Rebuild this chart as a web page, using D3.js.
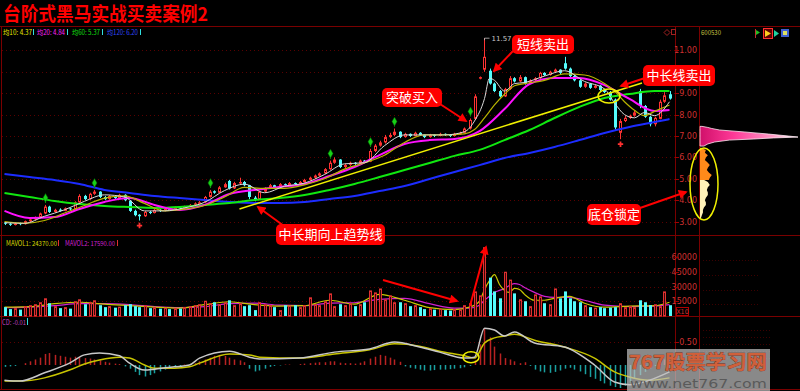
<!DOCTYPE html>
<html><head><meta charset="utf-8">
<script src="https://cdn.jsdelivr.net/npm/d3@7"></script>
<style>body{margin:0;background:#000;overflow:hidden}svg{display:block}</style>
</head><body><svg id="c" width="800" height="391"></svg>
<script>
// ---------------- DATA ----------------
const opens=[2.95,2.90,2.84,2.93,2.88,3.01,3.10,3.18,3.38,3.70,
3.45,3.56,3.50,3.62,3.58,3.90,4.20,4.05,4.30,4.40,
4.15,4.05,4.20,4.10,4.25,3.98,3.50,3.32,3.25,3.45,
3.40,3.55,3.50,3.60,3.55,3.66,3.62,3.70,3.78,3.86,
3.90,4.15,4.42,4.35,4.60,4.90,4.55,4.80,4.85,4.70,
4.12,4.05,4.40,4.55,4.70,4.60,4.75,4.70,4.80,4.75,
4.85,4.95,5.05,5.15,5.25,5.45,5.75,5.90,5.55,5.65,
5.75,5.70,5.85,5.80,6.30,6.55,6.70,6.95,7.05,7.20,
6.95,7.10,7.00,7.15,7.05,6.95,7.05,7.00,7.10,7.05,
7.00,7.10,7.15,7.35,7.80,9.70,10.10,10.05,9.45,9.10,
8.85,9.20,9.70,9.55,9.75,9.45,9.60,9.70,9.95,9.85,
10.00,10.10,10.40,10.15,9.80,9.60,9.30,9.45,9.25,9.35,
9.15,9.05,8.70,7.15,7.70,7.85,7.95,9.10,8.40,7.90,
7.55,7.80,8.60,8.95];
const highs=[2.98,2.93,2.96,2.95,3.05,3.14,3.24,3.42,3.78,3.74,
3.60,3.62,3.66,3.65,3.95,4.28,4.25,4.35,4.48,4.42,
4.20,4.25,4.24,4.30,4.28,4.00,3.56,3.35,3.50,3.50,
3.60,3.58,3.64,3.63,3.70,3.68,3.74,3.82,3.90,3.96,
4.20,4.48,4.46,4.66,4.82,4.95,4.86,5.05,4.90,4.72,
4.20,4.45,4.60,4.76,4.72,4.80,4.78,4.85,4.83,4.90,
5.00,5.10,5.20,5.30,5.50,5.85,6.00,5.92,5.70,5.80,
5.78,5.90,5.88,6.40,6.62,6.78,7.05,7.15,7.35,7.22,
7.15,7.12,7.20,7.18,7.08,7.10,7.08,7.15,7.12,7.08,
7.15,7.20,7.40,7.82,8.95,9.78,11.57,10.15,9.50,9.15,
9.25,9.80,9.75,9.85,9.78,9.65,9.75,10.00,9.98,10.05,
10.15,10.12,10.70,10.20,9.85,9.65,9.50,9.48,9.40,9.38,
9.20,9.10,8.75,7.80,7.95,8.00,8.20,9.20,8.45,7.95,
7.90,8.70,9.05,9.10];
const lows=[2.84,2.80,2.82,2.83,2.86,2.98,3.06,3.15,3.35,3.40,
3.42,3.46,3.48,3.52,3.56,3.88,4.00,4.02,4.25,4.10,
4.00,4.02,4.05,4.08,3.95,3.45,3.25,3.05,3.22,3.35,
3.38,3.45,3.48,3.50,3.52,3.58,3.60,3.68,3.75,3.80,
3.88,4.12,4.30,4.32,4.58,4.50,4.52,4.75,4.65,4.05,
3.95,4.02,4.36,4.52,4.55,4.58,4.65,4.68,4.70,4.72,
4.82,4.92,5.00,5.10,5.22,5.42,5.70,5.50,5.50,5.60,
5.65,5.68,5.75,5.78,6.25,6.50,6.65,6.90,7.00,6.90,
6.92,6.95,6.98,7.00,6.90,6.92,6.95,6.98,7.00,6.95,
6.98,7.05,7.12,7.30,7.75,9.65,10.00,9.40,9.05,8.80,
8.82,9.15,9.50,9.52,9.40,9.42,9.55,9.65,9.80,9.82,
9.95,9.90,10.10,9.75,9.55,9.25,9.25,9.20,9.22,9.10,
9.00,8.65,7.30,6.85,7.65,7.80,7.90,8.30,7.85,7.45,
7.45,7.78,8.55,8.70];
const closes=[2.90,2.85,2.92,2.88,3.02,3.10,3.20,3.38,3.70,3.45,
3.55,3.50,3.62,3.58,3.90,4.20,4.05,4.30,4.40,4.15,
4.05,4.20,4.10,4.25,4.00,3.50,3.30,3.25,3.45,3.40,
3.55,3.50,3.60,3.55,3.65,3.62,3.70,3.78,3.85,3.90,
4.15,4.40,4.35,4.60,4.75,4.55,4.80,4.85,4.70,4.15,
4.05,4.40,4.55,4.70,4.60,4.75,4.70,4.80,4.75,4.85,
4.95,5.05,5.15,5.25,5.45,5.75,5.90,5.55,5.65,5.75,
5.70,5.85,5.80,6.30,6.55,6.70,6.95,7.05,7.20,6.95,
7.10,7.00,7.15,7.05,6.95,7.05,7.00,7.10,7.05,7.00,
7.10,7.15,7.35,7.75,8.85,9.75,10.70,9.45,9.10,8.85,
9.20,9.70,9.55,9.75,9.45,9.60,9.70,9.95,9.85,10.00,
10.10,9.95,10.15,9.80,9.60,9.30,9.45,9.25,9.35,9.15,
9.05,8.70,7.40,7.70,7.85,7.95,8.10,8.40,7.90,7.55,
7.85,8.60,8.90,8.75];
const volumes=[9000,7000,8000,6500,10000,11000,12000,14000,18000,13000,10000,8000,9000,7500,
15000,17000,12000,14000,16000,11000,9000,10000,8500,9500,11000,
12000,10000,9000,11000,8000,9000,7500,8500,7000,8000,7500,9000,10000,11000,12000,
15500,13000,14000,12000,14000,16000,11000,13000,10000,11000,6000,
14000,12000,11000,9000,6000,11000,10500,11000,9000,11000,19000,12000,11000,15000,23000,10000,12000,11000,13000,10000,12000,14000,26000,24000,28000,17000,21000,14000,14000,13000,10000,11000,9000,7000,8000,6500,7500,6000,5500,7000,6500,
11000,13000,25000,21000,70000,39000,25000,18000,45000,37000,23000,17000,
15000,10000,22000,20000,13000,12000,28000,18000,25000,18000,15000,14000,11000,9000,8500,9000,8000,8500,9000,13000,9000,10000,9000,16000,14000,11000,12000,10000,25000,11000];

// moving averages at sample candles
const maIdx=[0,5,10,15,20,25,30,35,40,45,50,55,60,65,70,75,80,85,90,95,100,105,110,115,120,125,130,133];
const ma20=[3.50,3.17,3.21,3.59,3.92,4.10,3.78,3.54,3.78,4.29,4.48,4.62,4.76,5.13,5.55,6.11,6.63,6.81,6.86,7.23,8.26,9.43,9.71,9.71,9.38,8.73,8.17,8.21];
const ma60=[4.34,4.15,3.96,3.82,3.73,3.68,3.64,3.68,3.78,3.87,4.01,4.10,4.24,4.48,4.76,5.08,5.41,5.74,6.07,6.35,6.81,7.28,7.84,8.36,8.78,8.96,9.10,9.10];
const ma120=[5.22,5.08,4.94,4.76,4.48,4.34,4.20,4.10,4.01,3.92,3.87,3.87,3.92,4.06,4.20,4.43,4.66,4.99,5.32,5.64,5.97,6.21,6.49,6.81,7.14,7.42,7.65,7.79];
const fineIdx=[0,4,8,12,16,20,24,28,32,36,40,44,48,52,56,60,64,68,72,76,80,84,88,92,94,96,97,98,100,102,104,108,112,116,120,122,124,126,128,130,133];
const ma5=[2.95,2.92,3.25,3.55,3.95,4.25,4.15,3.50,3.50,3.64,3.90,4.45,4.75,4.35,4.65,4.80,5.20,5.70,5.75,6.55,7.05,7.05,7.05,7.20,7.70,8.75,9.70,9.60,9.10,9.45,9.50,9.80,10.05,9.55,9.20,8.55,8.00,7.85,8.10,7.95,8.60];
const ma10=[3.00,2.92,3.05,3.40,3.75,4.10,4.20,3.85,3.50,3.58,3.75,4.15,4.60,4.55,4.55,4.72,5.00,5.45,5.75,6.10,6.70,7.05,7.05,7.10,7.30,7.85,8.15,8.45,8.95,9.35,9.45,9.60,9.90,9.85,9.45,9.10,8.60,8.20,7.95,8.15,8.45];

const volMaIdx=[0,5,10,15,20,25,30,35,40,45,50,55,60,65,70,75,80,85,90,93,95,96,97,98,99,100,101,102,103,104,106,108,110,113,116,120,125,130,133];
const mavol1=[9000,9500,12500,14000,12000,10500,9000,8000,11500,14500,11500,10000,10500,16000,12000,22000,16000,8500,6500,9000,15000,27000,36000,42000,32000,26000,24000,28000,27000,22000,16000,16000,18000,20000,13000,9000,10000,10500,14000];
const mavol2=[8500,9000,10500,12500,12500,11500,9500,8500,9500,12500,13000,11000,10500,13000,13500,17000,18000,12500,8000,8000,11000,16000,20000,24000,26000,28000,31000,33000,32000,29000,24000,20000,19000,19000,16000,11000,9500,10000,11500];

const macdIdx=[0,3,8,13,16,19,23,25,28,30,34,37,39,45,49,51,59,66,73,78,83,87,92,94,96,98,100,102,106,112,118,122,125,129,133];
const dif=[-0.33,-0.35,-0.17,0.04,0.22,0.26,0.20,0.04,-0.11,-0.09,-0.04,0.0,0.15,0.30,0.17,0.13,0.15,0.28,0.35,0.50,0.39,0.28,0.15,0.17,0.80,0.76,0.63,0.72,0.48,0.39,0.0,-0.37,-0.43,-0.33,-0.15];
const dea=[-0.35,-0.35,-0.28,-0.11,0.02,0.11,0.17,0.15,0.0,-0.07,-0.07,-0.04,0.04,0.24,0.22,0.17,0.15,0.24,0.33,0.46,0.41,0.30,0.20,0.15,0.48,0.59,0.63,0.67,0.54,0.39,0.15,-0.15,-0.26,-0.33,-0.28];
const macdHist=[-0.04,-0.03,-0.02,0.0,
0.04,0.08,0.12,0.16,0.24,0.26,0.22,0.20,0.18,0.16,0.18,0.17,0.15,0.14,0.12,0.10,
0.07,0.05,0.03,0.02,-0.03,
-0.08,-0.15,-0.22,-0.25,-0.22,-0.18,-0.14,-0.10,-0.07,-0.05,-0.03,
0.01,0.02,0.04,
0.08,0.12,0.16,0.20,0.22,0.20,0.16,0.12,0.10,0.06,
-0.08,-0.14,-0.12,-0.08,-0.04,
-0.02,-0.01,0.01,0.01,0.0,0.02,
0.03,0.04,0.05,0.06,0.06,0.08,0.08,0.05,0.04,0.04,0.03,
0.05,0.08,0.14,0.18,0.22,0.20,0.16,0.12,0.07,
-0.03,-0.06,-0.08,-0.10,-0.12,-0.12,-0.11,-0.10,-0.10,-0.09,-0.08,-0.07,-0.05,
-0.02,
0.10,0.45,0.80,0.60,0.40,0.25,0.15,0.12,0.08,0.04,0.06,
-0.02,
-0.10,-0.14,-0.16,-0.17,-0.15,-0.12,-0.08,-0.06,
-0.10,-0.14,-0.20,
-0.26,-0.30,-0.35,-0.40,-0.45,-0.48,-0.50,
-0.45,-0.38,-0.30,-0.22,-0.15,-0.08,-0.02,0.05,0.12,0.16];

const priceTicks=[11,10,9,8,7,6,5,4,3];
const hiddenPriceLabels=[10]; // covered by the "中长线卖出" box in the reference
const volTicks=[60000,45000,30000,15000];
const macdTicks=[0.5];
const buySignals=[8,18,41,65,73,78,93];
const sellSignals=[27,123];
const trendIdx=[47,127.5];
const trendVal=[3.59,9.48];
const highMark={idx:96,value:11.57};

// chip distribution (price, relative amount)
const chipPinkP=[7.45,7.40,7.35,7.28,7.19,7.09,7.00,6.95,6.91,6.86,6.81,6.72,6.63,6.53];
const chipPinkA=[0.02,0.08,0.12,0.20,0.45,0.70,0.90,1.00,0.75,0.55,0.30,0.15,0.08,0.04];
const chipOrangeP=[6.45,6.35,6.22,6.10,6.00,5.88,5.75,5.64,5.52,5.41,5.30,5.18,5.05,4.94];
const chipOrangeA=[0.01,0.06,0.05,0.08,0.06,0.05,0.08,0.10,0.08,0.07,0.09,0.12,0.10,0.09];
const chipCreamP=[5.00,4.85,4.71,4.60,4.48,4.36,4.24,4.12,4.00,3.89,3.78,3.66,3.54,3.42,3.31,3.17];
const chipCreamA=[0.02,0.08,0.10,0.08,0.07,0.08,0.08,0.06,0.05,0.06,0.06,0.04,0.03,0.03,0.02,0.01];

// ---------------- DRAW ----------------
const svg=d3.select('#c');
const CJK="'Noto Sans CJK SC','Noto Sans',sans-serif";
const SANS="'DejaVu Sans','Liberation Sans',sans-serif";
svg.append('rect').attr('width',800).attr('height',391).attr('fill','#000');

const x=d3.scaleLinear().domain([0,133]).range([4.5,669.5]);
const yP=d3.scaleLinear().domain([3,11]).range([221.6,50.4]);
const yV=d3.scaleLinear().domain([0,60000]).range([316,257]);
const yM=d3.scaleLinear().domain([0,0.5]).range([365,342]);
const xChip=d3.scaleLinear().domain([0,1]).range([700,798]);

const defs=svg.append('defs');
defs.append('marker').attr('id','ah').attr('viewBox','0 0 10 10').attr('refX',8).attr('refY',5)
  .attr('markerWidth',5).attr('markerHeight',4.5).attr('orient','auto')
  .append('path').attr('d','M0,0L10,5L0,10z').attr('fill','#ff0000');
const gr=defs.append('linearGradient').attr('id','pinkG').attr('x1','0').attr('x2','1').attr('y1','0').attr('y2','0');
gr.append('stop').attr('offset','0').attr('stop-color','#d0106a');
gr.append('stop').attr('offset','0.35').attr('stop-color','#ff3a98');
gr.append('stop').attr('offset','0.75').attr('stop-color','#ff9cc6');
gr.append('stop').attr('offset','1').attr('stop-color','#ffffff');

// frame
const frame=svg.append('g').attr('stroke','#7a0000').attr('stroke-width',1);
[[0,26.5,800,26.5],[0,235.5,800,235.5],[0,316.5,800,316.5],[0,389.5,800,389.5],
 [675.5,26,675.5,390],[699.5,26,699.5,390],[1.5,26,1.5,390]].forEach(l=>
  frame.append('line').attr('x1',l[0]).attr('y1',l[1]).attr('x2',l[2]).attr('y2',l[3]));

// grids
const grid=svg.append('g').attr('stroke','#5a0000').attr('stroke-dasharray','1,3').attr('stroke-width',1);
priceTicks.forEach(t=>grid.append('line').attr('x1',2).attr('x2',675).attr('y1',Math.round(yP(t))+0.5).attr('y2',Math.round(yP(t))+0.5));
volTicks.forEach(t=>grid.append('line').attr('x1',2).attr('x2',675).attr('y1',Math.round(yV(t))+0.5).attr('y2',Math.round(yV(t))+0.5));
macdTicks.forEach(t=>grid.append('line').attr('x1',2).attr('x2',675).attr('y1',Math.round(yM(t))+0.5).attr('y2',Math.round(yM(t))+0.5));
const rg=svg.append('g').attr('stroke','#3c0000').attr('stroke-dasharray','1,2');
volTicks.forEach(t=>rg.append('line').attr('x1',703).attr('x2',760).attr('y1',Math.round(yV(t))+3.5).attr('y2',Math.round(yV(t))+3.5));
[330,337,344,351,358].forEach(v=>rg.append('line').attr('x1',703).attr('x2',770).attr('y1',v+0.5).attr('y2',v+0.5));

// right axis labels
const axT=svg.append('g').attr('font-family',SANS).attr('font-size',8).attr('fill','#d03030').attr('text-anchor','end');
priceTicks.forEach(t=>{
  if(!hiddenPriceLabels.includes(t)) axT.append('text').attr('x',697).attr('y',yP(t)+3).text(t.toFixed(2));
  svg.append('line').attr('x1',675).attr('x2',679).attr('y1',Math.round(yP(t))+0.5).attr('y2',Math.round(yP(t))+0.5).attr('stroke','#a00000');
});
volTicks.forEach(t=>{
  axT.append('text').attr('x',697).attr('y',yV(t)+3).text(t);
  svg.append('line').attr('x1',675).attr('x2',679).attr('y1',Math.round(yV(t))+0.5).attr('y2',Math.round(yV(t))+0.5).attr('stroke','#a00000');
});
macdTicks.forEach(t=>{
  axT.append('text').attr('x',697).attr('y',yM(t)+3).text(t.toFixed(2));
  svg.append('line').attr('x1',675).attr('x2',679).attr('y1',Math.round(yM(t))+0.5).attr('y2',Math.round(yM(t))+0.5).attr('stroke','#a00000');
});
svg.append('rect').attr('x',676.5).attr('y',307.5).attr('width',12).attr('height',8).attr('fill','none').attr('stroke','#b00000');
svg.append('text').attr('x',682.5).attr('y',314).attr('text-anchor','middle').attr('font-family',SANS).attr('font-size',6.5).attr('fill','#d03030').text('X10');

// candles
const candles=d3.range(closes.length).map(i=>({i,o:opens[i],h:highs[i],l:lows[i],c:closes[i],v:volumes[i]}));
const isUp=d=>d.c>=d.o;
const RED='#ff3232', CY='#54fcfc';
const gC=svg.append('g');
gC.selectAll('line').data(candles).join('line')
  .attr('x1',d=>Math.round(x(d.i))+0.5).attr('x2',d=>Math.round(x(d.i))+0.5)
  .attr('y1',d=>yP(d.h)).attr('y2',d=>yP(d.l))
  .attr('stroke',d=>isUp(d)?RED:CY).attr('stroke-width',1);
gC.selectAll('rect').data(candles).join('rect')
  .attr('x',d=>Math.round(x(d.i))-1+(isUp(d)?0.5:0))
  .attr('width',d=>isUp(d)?2:3)
  .attr('y',d=>Math.min(yP(d.o),yP(d.c))+(isUp(d)?0.5:0))
  .attr('height',d=>Math.max(isUp(d)?0.5:1,Math.abs(yP(d.o)-yP(d.c))-(isUp(d)?1:0)))
  .attr('fill',d=>isUp(d)?'#000':CY)
  .attr('stroke',d=>isUp(d)?RED:'none').attr('stroke-width',1);

// MA lines
const ln=(xs,ys,yS)=>d3.line().curve(d3.curveMonotoneX)(xs.map((v,k)=>[x(v),yS(ys[k])]));
const gM=svg.append('g').attr('fill','none');
gM.append('path').attr('d',ln(maIdx,ma120,yP)).attr('stroke','#1c2cff').attr('stroke-width',2);
gM.append('path').attr('d',ln(maIdx,ma60,yP)).attr('stroke','#10e810').attr('stroke-width',2);
gM.append('path').attr('d',ln(maIdx,ma20,yP)).attr('stroke','#ff10ff').attr('stroke-width',2);
gM.append('path').attr('d',ln(fineIdx,ma10,yP)).attr('stroke','#b8b400').attr('stroke-width',1.2);
gM.append('path').attr('d',ln(fineIdx,ma5,yP)).attr('stroke','#d8d8d8').attr('stroke-width',1);
svg.append('line').attr('x1',x(trendIdx[0])).attr('y1',yP(trendVal[0])).attr('x2',x(trendIdx[1])).attr('y2',yP(trendVal[1]))
  .attr('stroke','#f0f000').attr('stroke-width',1.5);

// signals
const gS=svg.append('g');
buySignals.forEach(i=>{
  const cx=Math.round(x(i))+0.5, cy=yP(highs[i])-7;
  gS.append('line').attr('x1',cx).attr('x2',cx).attr('y1',cy).attr('y2',cy+5).attr('stroke','#10b010').attr('stroke-width',1);
  gS.append('path').attr('d',d3.symbol(d3.symbolDiamond,22)()).attr('transform',`translate(${cx},${cy})`).attr('fill','#18d018').attr('stroke','#006000').attr('stroke-width',0.5);
});
sellSignals.forEach(i=>{
  const cx=Math.round(x(i))+0.5, cy=yP(lows[i])+5;
  gS.append('path').attr('d',d3.symbol(d3.symbolCross,16)()).attr('transform',`translate(${cx},${cy})`).attr('fill','#ff3030');
});
{
  const hx=Math.round(x(highMark.idx))+0.5, hy=yP(highMark.value);
  svg.append('path').attr('d',`M${hx},${hy+2}L${hx},${hy}L${hx+5},${hy}`).attr('stroke','#c0c0c0').attr('fill','none').attr('stroke-width',0.8);
  svg.append('text').attr('x',hx+7).attr('y',hy+3).attr('font-family',SANS).attr('font-size',7).attr('fill','#c8c8c8').text(highMark.value.toFixed(2));
}

// volume
const gV=svg.append('g');
gV.selectAll('rect').data(candles).join('rect')
  .attr('x',d=>Math.round(x(d.i))-1+(isUp(d)?0.5:0))
  .attr('width',d=>isUp(d)?2:3)
  .attr('y',d=>yV(d.v)+(isUp(d)?0.5:0))
  .attr('height',d=>yV(0)-yV(d.v)-(isUp(d)?0.5:0))
  .attr('fill',d=>isUp(d)?'#3a0808':CY)
  .attr('stroke',d=>isUp(d)?'#e03030':'none').attr('stroke-width',1);
gM.append('path').attr('d',ln(volMaIdx,mavol2,yV)).attr('stroke','#d020d0').attr('stroke-width',1.2);
gM.append('path').attr('d',ln(volMaIdx,mavol1,yV)).attr('stroke','#c8c800').attr('stroke-width',1.2);

// MACD
const gH=svg.append('g');
gH.selectAll('line').data(macdHist.map((v,i)=>({i,v}))).join('line')
  .attr('x1',d=>Math.round(x(d.i))+0.5).attr('x2',d=>Math.round(x(d.i))+0.5)
  .attr('y1',yM(0)).attr('y2',d=>yM(d.v))
  .attr('stroke',d=>d.v>=0?'#b82222':'#1aa0a0').attr('stroke-width',1.5);
svg.append('path').attr('d',ln(macdIdx,dea,yM)).attr('fill','none').attr('stroke','#c8c400').attr('stroke-width',1.5);
svg.append('path').attr('d',ln(macdIdx,dif,yM)).attr('fill','none').attr('stroke','#c8c8c8').attr('stroke-width',1.5);

// chip distribution
const chipArea=d3.area().y(d=>yP(d[0])).x0(700).x1(d=>xChip(d[1]));
svg.append('path').attr('d',chipArea(chipCreamP.map((p,k)=>[p,chipCreamA[k]]))).attr('fill','#fff2b8');
svg.append('path').attr('d',chipArea(chipOrangeP.map((p,k)=>[p,chipOrangeA[k]]))).attr('fill','#ff8a1a');
svg.append('path').attr('d',chipArea(chipPinkP.map((p,k)=>[p,chipPinkA[k]]))).attr('fill','url(#pinkG)').attr('stroke','#ffe8f2').attr('stroke-width',0.8);

// headers
function txt(g,xx,yy,s,col,len,size){const t=g.append('text').attr('x',xx).attr('y',yy).attr('fill',col).attr('font-size',size||7).attr('font-family',CJK).text(s);if(len)t.attr('textLength',len).attr('lengthAdjust','spacingAndGlyphs');return t;}
const hd=svg.append('g');
txt(hd,3,35,'均10: 4.37','#e8e800',29);
txt(hd,37,35,'均20: 4.84','#ff20ff',28);
txt(hd,72,35,'均60: 5.37','#10e010',28);
txt(hd,107,35,'均120: 6.20','#3048ff',31);
[33,67,102,140].forEach(v=>hd.append('line').attr('x1',v+0.5).attr('x2',v+0.5).attr('y1',29).attr('y2',35).attr('stroke','#30e0e0'));
txt(hd,6,246,'MAVOL1: 24370.00','#d8d800',51);
txt(hd,65,246,'MAVOL2: 17590.00','#d020d0',50);
[58,117].forEach(v=>hd.append('line').attr('x1',v+0.5).attr('x2',v+0.5).attr('y1',240).attr('y2',246).attr('stroke','#e03030'));
txt(hd,2,325,'CD: -0.01','#c040c0',24);
hd.append('line').attr('x1',27.5).attr('x2',27.5).attr('y1',318).attr('y2',325).attr('stroke','#30e0e0');
txt(hd,701,35,'600530','#c8c040',20);
hd.append('path').attr('d','M667,29.5l3,3l-3,3l-3,-3z').attr('fill','none').attr('stroke','#a02020');
hd.append('rect').attr('x',671.5).attr('y',29.5).attr('width',4).attr('height',5).attr('fill','none').attr('stroke','#a02020');
hd.append('path').attr('d','M756,30L760,32.5L756,35z').attr('fill','#20c020');
hd.append('line').attr('x1',755.5).attr('x2',755.5).attr('y1',29).attr('y2',38).attr('stroke','#c03030');
hd.append('rect').attr('x',763.5).attr('y',28.5).attr('width',9).attr('height',10).attr('fill','#600000').attr('stroke','#ff3030');
hd.append('path').attr('d','M765,30L771,33.5L765,37z').attr('fill','#ffd020');
hd.append('path').attr('d','M774,30L779,33.5L774,37z').attr('fill','#20d0a0');
hd.append('rect').attr('x',781).attr('y',29).attr('width',8).attr('height',8).attr('fill','#4060d0');
hd.append('rect').attr('x',783).attr('y',31).attr('width',4).attr('height',4).attr('fill','#e0e060');

// title
svg.append('text').attr('x',3).attr('y',21).attr('font-family',CJK).attr('font-weight',700).attr('font-size',19).attr('fill','#ff0000')
  .attr('textLength',205).attr('lengthAdjust','spacingAndGlyphs').text('台阶式黑马实战买卖案例2');

// ellipses
const ell=svg.append('g').attr('fill','none').attr('stroke','#f0f000').attr('stroke-width',1.5);
ell.append('ellipse').attr('cx',x(120.9)).attr('cy',yP(8.87)).attr('rx',11).attr('ry',7);
ell.append('ellipse').attr('cx',704).attr('cy',yP(4.76)).attr('rx',14).attr('ry',36);
ell.append('ellipse').attr('cx',x(93.3)).attr('cy',yM(0.17)).attr('rx',8).attr('ry',5.5);

// arrows
const arrows=[[440,104,466,121],[513,51,494,71],[645,78,621,86],[640,208,686,192],[284,226,258,207],[383,280,457,301],[470,306,486,247]];
arrows.forEach(a=>svg.append('line').attr('x1',a[0]).attr('y1',a[1]).attr('x2',a[2]).attr('y2',a[3]).attr('stroke','#ff0000').attr('stroke-width',2).attr('marker-end','url(#ah)'));

// annotation boxes
const notes=[['突破买入',382,88,60,19],['短线卖出',512,35,62,19],['中长线卖出',643,65,72,21],['底仓锁定',587,204,54,21],['中长期向上趋势线',276,224,109,21]];
notes.forEach(n=>{
  svg.append('rect').attr('x',n[1]).attr('y',n[2]).attr('width',n[3]).attr('height',n[4]).attr('rx',5).attr('fill','#ff0000');
  svg.append('text').attr('x',n[1]+n[3]/2).attr('y',n[2]+n[4]/2+4.5).attr('text-anchor','middle')
    .attr('font-family',CJK).attr('font-size',13).attr('fill','#ffffff').text(n[0]);
});

// watermark
svg.append('rect').attr('x',627).attr('y',349).attr('width',143).attr('height',42).attr('fill','rgba(190,190,190,0.72)');
svg.append('text').attr('x',629).attr('y',369).attr('font-family',CJK).attr('font-weight',700).attr('font-size',19).attr('fill','#d0603a')
  .attr('stroke','#7a2a12').attr('stroke-width',0.6).attr('paint-order','stroke')
  .attr('textLength',138).attr('lengthAdjust','spacingAndGlyphs').text('767股票学习网');
svg.append('text').attr('x',630).attr('y',388).attr('font-family',SANS).attr('font-size',12.5).attr('fill','#5a5a5a')
  .attr('textLength',137).attr('lengthAdjust','spacingAndGlyphs').text('www.net767.com');
</script></body></html>
